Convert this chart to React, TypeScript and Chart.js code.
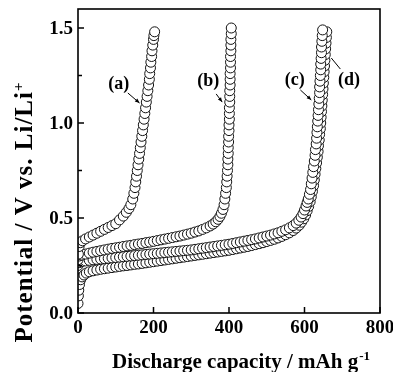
import React, { useEffect, useRef } from 'react';
import { Chart, registerables } from 'chart.js';

Chart.register(...registerables);

// ---- axis ticks ----
const xTicks = [0, 200, 400, 600, 800];
const yTicks = [0, 0.5, 1.0, 1.5];
const yMinorTicks = [0.25, 0.75, 1.25];

// ---- series: [capacity mAh/g, potential V] ----
const curveA: [number, number][] = [
  [1, 0.31], [3, 0.35], [6, 0.37], [12, 0.38], [20, 0.39], [30, 0.40], [40, 0.41], [50, 0.42],
  [60, 0.43], [70, 0.44], [80, 0.45], [90, 0.46], [100, 0.47], [110, 0.49], [120, 0.51], [128, 0.53],
  [135, 0.55], [140, 0.57], [145, 0.60], [148, 0.63], [151, 0.66], [153, 0.69], [155, 0.72], [157, 0.75],
  [159, 0.78], [161, 0.81], [163, 0.84], [165, 0.87], [167, 0.90], [169, 0.93], [171, 0.96], [173, 0.99],
  [175, 1.02], [177, 1.05], [179, 1.08], [181, 1.11], [183, 1.14], [185, 1.17], [187, 1.20], [189, 1.23],
  [190, 1.26], [192, 1.29], [193, 1.32], [195, 1.35], [196, 1.38], [198, 1.41], [200, 1.44], [201, 1.46],
  [203, 1.48],
];

const curveB: [number, number][] = [
  [0, 0.28], [3, 0.30], [10, 0.305], [20, 0.31], [30, 0.315], [40, 0.32], [50, 0.324], [60, 0.328],
  [70, 0.332], [80, 0.336], [90, 0.34], [100, 0.343], [110, 0.346], [120, 0.35], [130, 0.353], [140, 0.356],
  [150, 0.36], [160, 0.363], [170, 0.366], [180, 0.37], [190, 0.373], [200, 0.377], [210, 0.381], [220, 0.385],
  [230, 0.389], [240, 0.393], [250, 0.397], [260, 0.401], [270, 0.405], [280, 0.41], [290, 0.415], [300, 0.42],
  [310, 0.426], [320, 0.432], [330, 0.44], [340, 0.448], [350, 0.458], [358, 0.468], [365, 0.48], [371, 0.493],
  [376, 0.508], [380, 0.525], [384, 0.545], [387, 0.57], [389, 0.60], [391, 0.63], [393, 0.66], [394, 0.69],
  [395, 0.72], [396, 0.75], [397, 0.78], [397, 0.81], [398, 0.84], [398, 0.87], [399, 0.90], [399, 0.93],
  [400, 0.96], [400, 0.99], [401, 1.02], [401, 1.05], [401, 1.08], [402, 1.11], [402, 1.14], [402, 1.17],
  [403, 1.20], [403, 1.23], [403, 1.26], [404, 1.29], [404, 1.32], [404, 1.35], [405, 1.38], [405, 1.41],
  [405, 1.44], [406, 1.47], [406, 1.50],
];

const curveC: [number, number][] = [
  [0, 0.25], [3, 0.265], [10, 0.27], [20, 0.274], [30, 0.277], [40, 0.28], [50, 0.282], [60, 0.284],
  [70, 0.286], [80, 0.288], [90, 0.29], [100, 0.292], [110, 0.294], [120, 0.296], [130, 0.298], [140, 0.30],
  [150, 0.302], [160, 0.304], [170, 0.306], [180, 0.308], [190, 0.31], [200, 0.312], [210, 0.314], [220, 0.316],
  [230, 0.318], [240, 0.32], [250, 0.322], [260, 0.324], [270, 0.326], [280, 0.328], [290, 0.33], [300, 0.332],
  [310, 0.335], [320, 0.338], [330, 0.341], [340, 0.344], [350, 0.347], [360, 0.35], [370, 0.353], [380, 0.356],
  [390, 0.359], [400, 0.362], [410, 0.366], [420, 0.37], [430, 0.374], [440, 0.378], [450, 0.382], [460, 0.386],
  [470, 0.39], [480, 0.395], [490, 0.40], [500, 0.405], [510, 0.41], [520, 0.416], [530, 0.422], [540, 0.43],
  [550, 0.438], [560, 0.448], [570, 0.46], [578, 0.473], [585, 0.488], [591, 0.505], [596, 0.523], [600, 0.542],
  [604, 0.563], [607, 0.582], [610, 0.60], [613, 0.625], [616, 0.65], [618, 0.68], [620, 0.71], [622, 0.74],
  [624, 0.77], [626, 0.80], [628, 0.83], [629, 0.86], [631, 0.89], [632, 0.92], [633, 0.95], [634, 0.98],
  [635, 1.01], [636, 1.04], [637, 1.07], [638, 1.10], [639, 1.13], [640, 1.16], [640, 1.19], [641, 1.22],
  [642, 1.25], [643, 1.28], [643, 1.31], [644, 1.34], [645, 1.37], [645, 1.40], [646, 1.43], [647, 1.46],
  [648, 1.49],
];

const curveD: [number, number][] = [
  [0, 0.05], [1, 0.09], [2, 0.12], [4, 0.15], [7, 0.175], [11, 0.19], [16, 0.20], [22, 0.21],
  [30, 0.217], [40, 0.222], [50, 0.226], [60, 0.23], [70, 0.233], [80, 0.236], [90, 0.239], [100, 0.242],
  [110, 0.245], [120, 0.248], [130, 0.25], [140, 0.253], [150, 0.256], [160, 0.258], [170, 0.261], [180, 0.264],
  [190, 0.267], [200, 0.27], [210, 0.273], [220, 0.276], [230, 0.279], [240, 0.282], [250, 0.285], [260, 0.288],
  [270, 0.291], [280, 0.294], [290, 0.297], [300, 0.30], [310, 0.303], [320, 0.306], [330, 0.309], [340, 0.312],
  [350, 0.315], [360, 0.318], [370, 0.321], [380, 0.324], [390, 0.327], [400, 0.33], [410, 0.334], [420, 0.338],
  [430, 0.342], [440, 0.346], [450, 0.35], [460, 0.355], [470, 0.36], [480, 0.365], [490, 0.37], [500, 0.376],
  [510, 0.382], [520, 0.388], [530, 0.395], [540, 0.403], [550, 0.412], [560, 0.422], [570, 0.434], [578, 0.447],
  [586, 0.462], [592, 0.478], [598, 0.496], [603, 0.516], [607, 0.538], [611, 0.561], [615, 0.586], [618, 0.612],
  [621, 0.64], [624, 0.67], [626, 0.70], [628, 0.73], [630, 0.76], [632, 0.79], [634, 0.82], [636, 0.85],
  [637, 0.88], [639, 0.91], [640, 0.94], [642, 0.97], [643, 1.00], [644, 1.03], [645, 1.06], [646, 1.09],
  [647, 1.12], [648, 1.15], [649, 1.18], [650, 1.21], [651, 1.24], [652, 1.27], [653, 1.30], [654, 1.33],
  [655, 1.36], [656, 1.39], [657, 1.42], [658, 1.45], [659, 1.48],
];

const seriesNames = ['(a)', '(b)', '(c)', '(d)'];
const seriesData = [curveA, curveB, curveC, curveD];

// annotation label anchors and pointer lines, in data units
const labelX = [108, 345, 574, 718];
const labelY = [1.205, 1.221, 1.226, 1.226];
const pointerFrom: [number, number][] = [[132, 1.158], [366, 1.153], [589, 1.174], [695, 1.284]];
const pointerTo: [number, number][] = [[163, 1.105], [382, 1.11], [618, 1.121], [671, 1.342]];
const pointerHead = [true, true, true, false];

const xTitle = 'Discharge capacity / mAh g';
const xTitleSup = '-1';
const yTitle = 'Potential / V vs. Li/Li';
const yTitleSup = '+';

const FONT = '"Liberation Serif", "Times New Roman", serif';

const decorPlugin = {
  id: 'decor',
  afterDatasetsDraw(chart: any) {
    const { ctx, chartArea: a, scales } = chart;
    const x = scales.x;
    const y = scales.y;
    ctx.save();
    // frame
    ctx.strokeStyle = '#000';
    ctx.lineWidth = 1.6;
    ctx.strokeRect(a.left, a.top, a.right - a.left, a.bottom - a.top);
    // inward ticks
    ctx.lineWidth = 1.5;
    ctx.beginPath();
    for (const v of xTicks) {
      const px = x.getPixelForValue(v);
      ctx.moveTo(px, a.bottom);
      ctx.lineTo(px, a.bottom - 6);
    }
    for (const v of yTicks) {
      const py = y.getPixelForValue(v);
      ctx.moveTo(a.left, py);
      ctx.lineTo(a.left + 6, py);
    }
    for (const v of yMinorTicks) {
      const py = y.getPixelForValue(v);
      ctx.moveTo(a.left, py);
      ctx.lineTo(a.left + 4, py);
    }
    ctx.stroke();

    // tick labels
    ctx.fillStyle = '#000';
    ctx.font = `bold 19px ${FONT}`;
    ctx.textBaseline = 'middle';
    ctx.textAlign = 'right';
    for (const v of yTicks) {
      ctx.fillText(v.toFixed(1), a.left - 5, y.getPixelForValue(v) + 1);
    }
    ctx.textAlign = 'center';
    for (const v of xTicks) {
      ctx.fillText(String(v), x.getPixelForValue(v), a.bottom + 15);
    }

    // annotations
    ctx.font = `bold 18px ${FONT}`;
    ctx.textAlign = 'center';
    ctx.textBaseline = 'middle';
    seriesNames.forEach((name, i) => {
      ctx.fillText(name, x.getPixelForValue(labelX[i]), y.getPixelForValue(labelY[i]));
      const x0 = x.getPixelForValue(pointerFrom[i][0]);
      const y0 = y.getPixelForValue(pointerFrom[i][1]);
      const x1 = x.getPixelForValue(pointerTo[i][0]);
      const y1 = y.getPixelForValue(pointerTo[i][1]);
      ctx.lineWidth = 1;
      ctx.beginPath();
      ctx.moveTo(x0, y0);
      ctx.lineTo(x1, y1);
      ctx.stroke();
      if (pointerHead[i]) {
        const ang = Math.atan2(y1 - y0, x1 - x0);
        const L = 5;
        ctx.beginPath();
        ctx.moveTo(x1, y1);
        ctx.lineTo(x1 - L * Math.cos(ang - 0.4), y1 - L * Math.sin(ang - 0.4));
        ctx.lineTo(x1 - L * Math.cos(ang + 0.4), y1 - L * Math.sin(ang + 0.4));
        ctx.closePath();
        ctx.fill();
      }
    });

    // x title
    ctx.textAlign = 'left';
    ctx.textBaseline = 'alphabetic';
    let mainFont = `bold 21px ${FONT}`;
    let supFont = `bold 13px ${FONT}`;
    ctx.font = mainFont;
    const w1 = ctx.measureText(xTitle).width;
    ctx.font = supFont;
    const w2 = ctx.measureText(xTitleSup).width;
    const cx = 241;
    let sx = cx - (w1 + w2 + 1) / 2;
    ctx.font = mainFont;
    ctx.fillText(xTitle, sx, 368);
    ctx.font = supFont;
    ctx.fillText(xTitleSup, sx + w1 + 1, 360);

    // y title (rotated)
    mainFont = `bold 25px ${FONT}`;
    supFont = `bold 15px ${FONT}`;
    ctx.save();
    ctx.translate(32, 212);
    ctx.rotate(-Math.PI / 2);
    try { (ctx as any).letterSpacing = '1px'; } catch (e) { /* ignore */ }
    ctx.font = mainFont;
    const v1 = ctx.measureText(yTitle).width;
    ctx.font = supFont;
    const v2 = ctx.measureText(yTitleSup).width;
    sx = -(v1 + v2) / 2;
    ctx.font = mainFont;
    ctx.fillText(yTitle, sx, 0);
    ctx.font = supFont;
    ctx.fillText(yTitleSup, sx + v1, -9);
    try { (ctx as any).letterSpacing = '0px'; } catch (e) { /* ignore */ }
    ctx.restore();

    ctx.restore();
  },
};

export default function App() {
  const ref = useRef<HTMLCanvasElement | null>(null);
  useEffect(() => {
    document.body.style.margin = '0';
    const canvas = ref.current;
    if (!canvas) return;
    const chart = new Chart(canvas, {
      type: 'scatter',
      data: {
        datasets: seriesData.map((d, i) => ({
          label: seriesNames[i],
          data: d.map(([px, py]) => ({ x: px, y: py })),
          showLine: false,
          pointStyle: 'circle',
          pointRadius: 5,
          pointBorderWidth: 1,
          pointBackgroundColor: '#ffffff',
          pointBorderColor: '#111111',
          clip: 0,
        })),
      },
      options: {
        responsive: false,
        animation: false,
        devicePixelRatio: 1,
        events: [],
        layout: { padding: { top: 9, right: 13, left: 0, bottom: 0 } },
        plugins: { legend: { display: false }, tooltip: { enabled: false } },
        scales: {
          x: {
            type: 'linear',
            min: 0,
            max: 800,
            grid: { display: false },
            border: { display: false },
            ticks: { display: false },
            afterFit: (s: any) => { s.height = 59; s.paddingLeft = 0; s.paddingRight = 0; },
          },
          y: {
            type: 'linear',
            min: 0,
            max: 1.6,
            grid: { display: false },
            border: { display: false },
            ticks: { display: false },
            afterFit: (s: any) => { s.width = 78; s.paddingTop = 0; s.paddingBottom = 0; },
          },
        },
      },
      plugins: [decorPlugin],
    });
    return () => chart.destroy();
  }, []);
  return (
    <div style={{ width: 393, height: 372, background: '#fff' }}>
      <canvas ref={ref} width={393} height={372} style={{ display: 'block' }} />
    </div>
  );
}
